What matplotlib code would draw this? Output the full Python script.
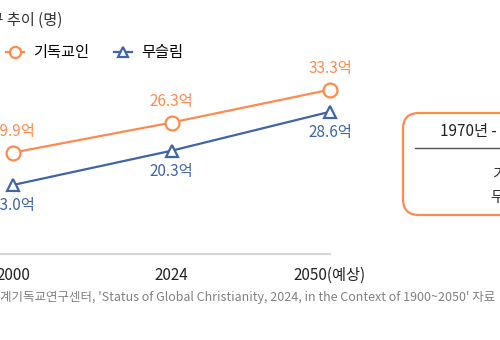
import matplotlib
matplotlib.use("Agg")
import matplotlib.pyplot as plt
from matplotlib.patches import FancyBboxPatch
from matplotlib.transforms import IdentityTransform
from matplotlib.lines import Line2D

plt.rcParams['font.family'] = ['Noto Sans CJK KR', 'DejaVu Sans']

years = ['2000', '2024', '2050(예상)']
christian = [19.9, 26.3, 33.3]
muslim = [13.0, 20.3, 28.6]
series_names = ['기독교인', '무슬림']

ORANGE = '#ff8a4c'
BLUE = '#3f64a8'

fig = plt.figure(figsize=(5, 3.4), dpi=100)
ax = fig.add_axes([0, 86/340, 1, 1 - 86/340])
ax.set_xlim(-13/158.5, (500-13)/158.5)
ax.set_ylim(-1.7, 52.4)

x = list(range(len(years)))
ax.plot(x, christian, color=ORANGE, lw=1.6, marker='o', ms=10, mfc='white',
        mec=ORANGE, mew=1.6, zorder=3)
ax.plot(x, muslim, color=BLUE, lw=1.6, marker='^', ms=9, mfc='white',
        mec=BLUE, mew=1.6, zorder=3)

for xi, v in zip(x, christian):
    ax.annotate(f'{v:.1f}억', (xi, v), xytext=(0, 9), textcoords='offset points',
                ha='center', va='bottom', color=ORANGE, fontsize=11)
for xi, v in zip(x, muslim):
    ax.annotate(f'{v:.1f}억', (xi, v), xytext=(0, -9), textcoords='offset points',
                ha='center', va='top', color=BLUE, fontsize=11)

for s in ['top', 'right', 'left']:
    ax.spines[s].set_visible(False)
ax.spines['bottom'].set_color('#d4d4d4')
ax.spines['bottom'].set_linewidth(1.5)
ax.spines['bottom'].set_bounds(ax.get_xlim()[0], 2.0)
ax.set_yticks([])
ax.set_xticks(x)
ax.set_xticklabels(years, fontsize=11, color='#222222')
ax.tick_params(axis='x', length=0, pad=9)

# title (cropped)
fig.text(62/500, 1 - 20/340, '세계 기독교인·무슬림 인구 추이 (명)', ha='right', va='center',
         fontsize=11, color='#333333')

# legend
handles = [Line2D([], [], color=ORANGE, lw=1.6, marker='o', ms=8, mfc='white', mec=ORANGE, mew=1.6),
           Line2D([], [], color=BLUE, lw=1.6, marker='^', ms=7, mfc='white', mec=BLUE, mew=1.6)]
fig.legend(handles, series_names, loc='center left', bbox_to_anchor=(6/500, 1 - 53/340),
           ncol=2, frameon=False, fontsize=11, handlelength=1.2, handletextpad=0.6,
           columnspacing=1.6, borderaxespad=0, borderpad=0)

# source
fig.text(0, 1 - 298/340,
         "계기독교연구센터, 'Status of Global Christianity, 2024, in the Context of 1900~2050' 자료",
         ha='left', va='center', fontsize=9, color='#808080')

# side box (cropped)
box = FancyBboxPatch((403, 340 - 215), 140, 102, boxstyle='round,pad=0,rounding_size=16',
                     transform=IdentityTransform(), facecolor='white', edgecolor=ORANGE, lw=1.6)
fig.add_artist(box)
fig.add_artist(Line2D([415/500, 1.0], [1 - 148/340, 1 - 148/340], color='#555555', lw=1,
                      transform=fig.transFigure))
fig.text(440/500, 1 - 132/340, '1970년 - 2024년', ha='left', va='center', fontsize=11, color='#222222')
fig.text(492/500, 1 - 175/340, '기독교인', ha='left', va='center', fontsize=11, color='#333333')
fig.text(490/500, 1 - 197/340, '무슬림', ha='left', va='center', fontsize=11, color='#333333')

fig.savefig('out.png', dpi=100)
